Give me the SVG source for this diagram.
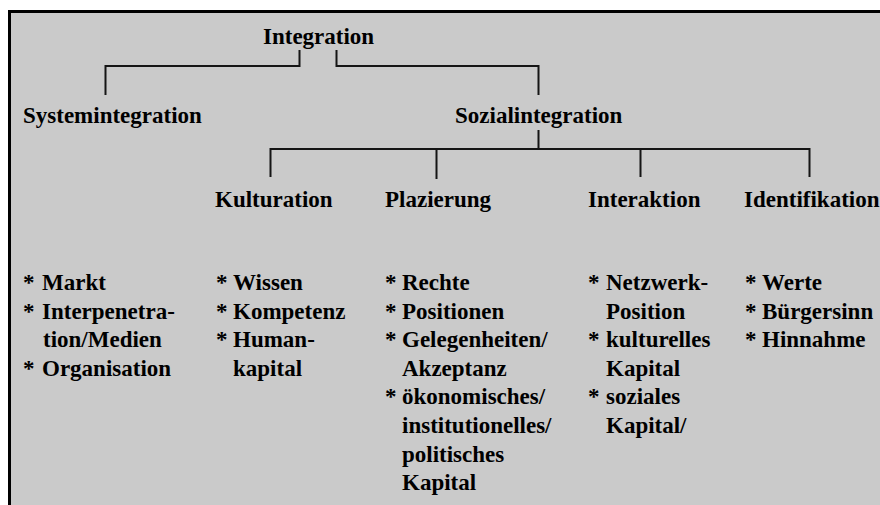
<svg xmlns="http://www.w3.org/2000/svg" width="880" height="505" viewBox="0 0 880 505">
<style>
text{font-family:"Liberation Serif","Times New Roman",serif;font-weight:bold;font-size:23px;fill:#000}
.ln{fill:none;stroke:#151515;stroke-width:2}
</style>
<rect x="0" y="0" width="880" height="505" fill="#fff"/>
<rect x="9.5" y="11.5" width="900" height="600" fill="#cacaca" stroke="#000" stroke-width="3"/>
<g id="connectors" class="ln">
<path d="M299.5 50 V66 H105.5 V95"/>
<path d="M336.5 50 V66 H538.5 V95"/>
<path d="M538.5 130 V149"/>
<path d="M270.5 177 V149 H809.5 V177"/>
<path d="M436.5 149 V179"/>
<path d="M640.5 149 V177"/>
</g>
<g id="integration"><text x="263" y="44">Integration</text></g>
<g id="systemintegration"><text x="23" y="123">Systemintegration</text></g>
<g id="sozialintegration"><text x="455" y="123">Sozialintegration</text></g>
<g id="kulturation"><text x="215" y="207">Kulturation</text></g>
<g id="plazierung"><text x="385" y="207">Plazierung</text></g>
<g id="interaktion"><text x="588" y="207">Interaktion</text></g>
<g id="identifikation"><text x="744" y="207">Identifikation</text></g>
<g id="list-system">
<text><tspan x="23" y="290">*</tspan><tspan x="42">Markt</tspan></text>
<text><tspan x="23" y="318.6">*</tspan><tspan x="42">Interpenetra-</tspan></text>
<text x="43" y="347.2">tion/Medien</text>
<text><tspan x="23" y="375.8">*</tspan><tspan x="42">Organisation</tspan></text>
</g>
<g id="list-kulturation">
<text><tspan x="216" y="290">*</tspan><tspan x="233">Wissen</tspan></text>
<text><tspan x="216" y="318.6">*</tspan><tspan x="233">Kompetenz</tspan></text>
<text><tspan x="216" y="347.2">*</tspan><tspan x="233">Human-</tspan></text>
<text x="233" y="375.8">kapital</text>
</g>
<g id="list-plazierung">
<text><tspan x="385" y="290">*</tspan><tspan x="402">Rechte</tspan></text>
<text><tspan x="385" y="318.6">*</tspan><tspan x="402">Positionen</tspan></text>
<text><tspan x="385" y="347.2">*</tspan><tspan x="402">Gelegenheiten/</tspan></text>
<text x="402" y="375.8">Akzeptanz</text>
<text><tspan x="385" y="404.4">*</tspan><tspan x="402">ökonomisches/</tspan></text>
<text x="402" y="433">institutionelles/</text>
<text x="402" y="461.6">politisches</text>
<text x="402" y="490.2">Kapital</text>
</g>
<g id="list-interaktion">
<text><tspan x="588" y="290">*</tspan><tspan x="606">Netzwerk-</tspan></text>
<text x="606" y="318.6">Position</text>
<text><tspan x="588" y="347.2">*</tspan><tspan x="606">kulturelles</tspan></text>
<text x="606" y="375.8">Kapital</text>
<text><tspan x="588" y="404.4">*</tspan><tspan x="606">soziales</tspan></text>
<text x="606" y="433">Kapital/</text>
</g>
<g id="list-identifikation">
<text><tspan x="745" y="290">*</tspan><tspan x="762">Werte</tspan></text>
<text><tspan x="745" y="318.6">*</tspan><tspan x="762">Bürgersinn</tspan></text>
<text><tspan x="745" y="347.2">*</tspan><tspan x="762">Hinnahme</tspan></text>
</g>
</svg>
